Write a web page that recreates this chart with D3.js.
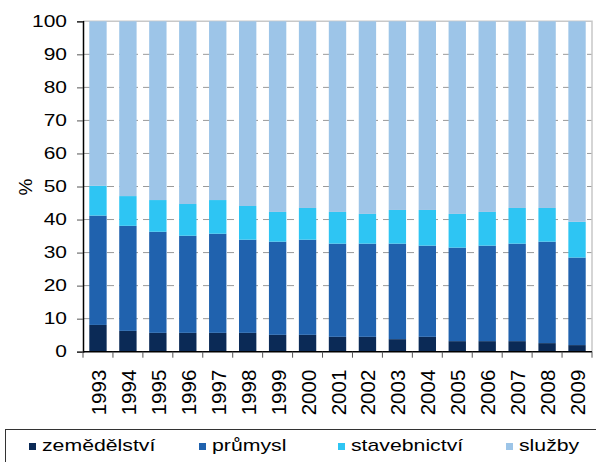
<!DOCTYPE html>
<html><head><meta charset="utf-8">
<script src="https://cdn.jsdelivr.net/npm/d3@7"></script>
<style>body{margin:0;background:#fff}svg{display:block}</style>
</head><body><svg id="c" width="596" height="462"></svg>
<script>
const years = ["1993","1994","1995","1996","1997","1998","1999","2000","2001","2002","2003","2004","2005","2006","2007","2008","2009"];
const seriesNames = ["zemědělství","průmysl","stavebnictví","služby"];
// cumulative tops
const agri   = [8.1,6.3,5.7,5.7,5.7,5.7,5.1,5.1,4.5,4.5,3.8,4.5,3.2,3.2,3.2,2.6,2.0];
const indTop = [41.2,38.1,36.3,35.1,35.7,33.9,33.3,33.9,32.7,32.7,32.7,32.1,31.5,32.1,32.7,33.3,28.5];
const conTop = [50.2,47.1,45.9,44.7,45.9,44.1,42.3,43.5,42.3,41.7,42.9,42.9,41.7,42.3,43.5,43.5,39.3];
const yTicks = [0,10,20,30,40,50,60,70,80,90,100];
const colors = ["#0b2a56","#2062ae","#2ec5f3","#9dc5e8"];

const industry = indTop.map((v,i)=>+(v-agri[i]).toFixed(1));
const construction = conTop.map((v,i)=>+(v-indTop[i]).toFixed(1));
const services = conTop.map(v=>+(100-v).toFixed(1));
const table = years.map((y,i)=>({year:y,"zemědělství":agri[i],"průmysl":industry[i],"stavebnictví":construction[i],"služby":services[i]}));
const stacked = d3.stack().keys(seriesNames)(table);

const svg = d3.select("#c");
const L=83, R=592, T=21.3, B=351.7;
const x = d3.scaleBand().domain(years).range([L,R]).paddingInner(0.42).paddingOuter(0.21);
const xb = d3.scaleBand().domain(years).range([L,R]);
const y = d3.scaleLinear().domain([0,100]).range([B,T]);
const font = "'Liberation Sans', Arial, sans-serif";

// gridlines
svg.append("g").selectAll("line").data(yTicks.filter(t=>t>0&&t<100)).join("line")
  .attr("x1",L).attr("x2",R).attr("y1",d=>y(d)).attr("y2",d=>y(d))
  .attr("stroke","#9a9a9a").attr("stroke-width",1).attr("stroke-dasharray","7,5");
// plot border top/right
svg.append("path").attr("d",`M${L},${y(100)}H${R}V${B}`).attr("fill","none").attr("stroke","#c8c8c8").attr("stroke-width",1.5);

// bars
svg.append("g").selectAll("g").data(stacked).join("g").attr("fill",(d,i)=>colors[i])
  .selectAll("rect").data(d=>d).join("rect")
  .attr("x",d=>x(d.data.year)).attr("width",x.bandwidth())
  .attr("y",d=>y(d[1])).attr("height",d=>y(d[0])-y(d[1]));

// y axis
const ya = svg.append("g").attr("transform",`translate(${L},0)`)
  .call(d3.axisLeft(y).tickValues(yTicks).tickSize(6).tickPadding(5));
ya.select(".domain").attr("stroke","#000").attr("stroke-width",1.5);
ya.selectAll(".tick line").attr("stroke","#555");
ya.selectAll("text").attr("x",0).attr("transform","translate(-16,0) scale(1.27,1)")
  .attr("font-family",font).attr("font-size",16.5).attr("fill","#000");

// x axis
const xa = svg.append("g").attr("transform",`translate(0,${B})`);
xa.append("line").attr("x1",L).attr("x2",R).attr("stroke","#000").attr("stroke-width",1.5);
xa.selectAll(".tk").data(years.concat(["end"])).join("line").attr("class","tk")
  .attr("x1",d=>d==="end"?R:xb(d)).attr("x2",d=>d==="end"?R:xb(d))
  .attr("y1",0).attr("y2",6).attr("stroke","#555");
xa.selectAll(".lbl").data(years).join("text").attr("class","lbl")
  .attr("transform",d=>`translate(${xb(d)+xb.bandwidth()/2+8},18) rotate(-90)`)
  .attr("text-anchor","end").attr("font-family",font).attr("font-size",20.5).attr("fill","#000")
  .text(d=>d);

// y label
svg.append("text").attr("transform","translate(32,187) rotate(-90)").attr("text-anchor","middle")
  .attr("font-family",font).attr("font-size",19).text("%");

// legend
svg.append("rect").attr("x",5.5).attr("y",429.5).attr("width",600).attr("height",60)
  .attr("fill","none").attr("stroke","#333").attr("stroke-width",1);
const legX = [29,199,338,506];
const lg = svg.append("g").selectAll("g").data(seriesNames).join("g")
  .attr("transform",(d,i)=>`translate(${legX[i]},0)`);
lg.append("rect").attr("x",0).attr("y",443).attr("width",7).attr("height",7).attr("fill",(d,i)=>colors[i]);
lg.append("text").attr("transform","translate(13,451) scale(1.25,1)").attr("font-family",font).attr("font-size",17).text(d=>d);
</script></body></html>
